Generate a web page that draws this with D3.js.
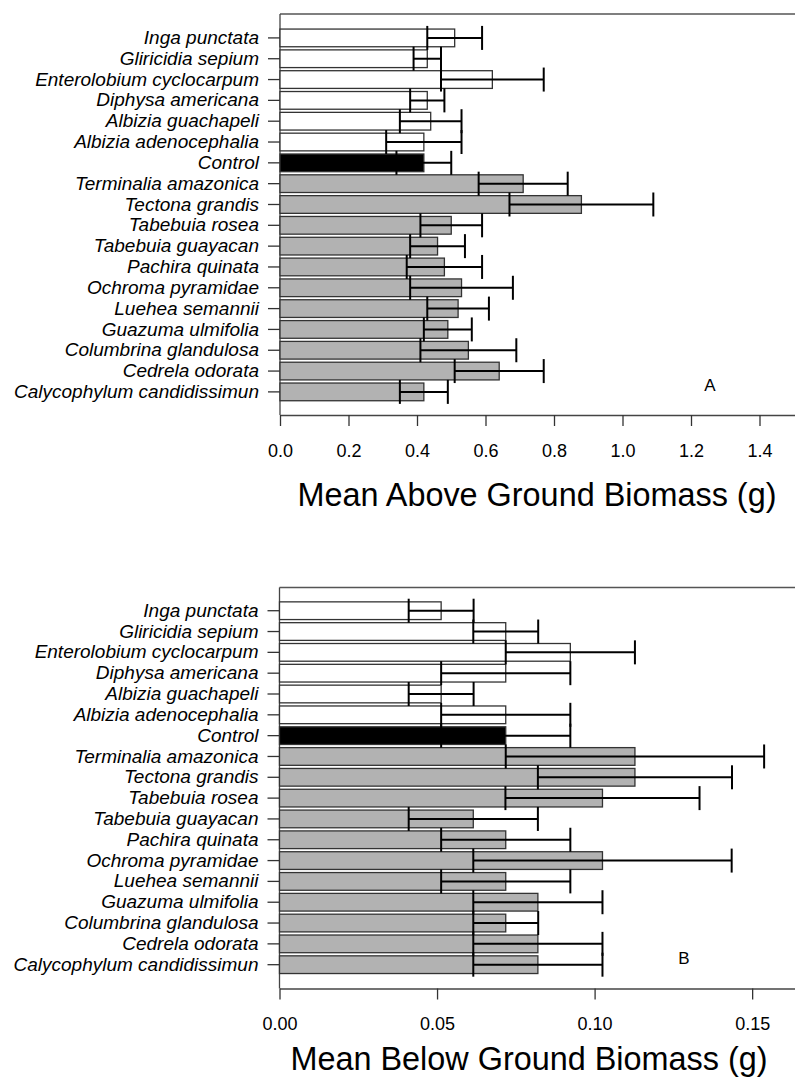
<!DOCTYPE html>
<html>
<head>
<meta charset="utf-8">
<script src="https://cdn.jsdelivr.net/npm/d3@7"></script>
<style>
  html, body { margin: 0; padding: 0; background: #ffffff; }
  svg { display: block; }
  text { font-family: "Liberation Sans", Arial, sans-serif; fill: #000; }
</style>
</head>
<body>
<svg id="chart" width="795" height="1081"></svg>
<script>
// ---- Data ----
const species = [
  "Inga punctata", "Gliricidia sepium", "Enterolobium cyclocarpum", "Diphysa americana",
  "Albizia guachapeli", "Albizia adenocephalia", "Control", "Terminalia amazonica",
  "Tectona grandis", "Tabebuia rosea", "Tabebuia guayacan", "Pachira quinata",
  "Ochroma pyramidae", "Luehea semannii", "Guazuma ulmifolia", "Columbrina glandulosa",
  "Cedrela odorata", "Calycophylum candidissimun"
];
// group: legume (white), control (black), non-legume (grey)
const groups = [
  "legume", "legume", "legume", "legume", "legume", "legume", "control",
  "other", "other", "other", "other", "other", "other", "other", "other", "other", "other", "other"
];
const aboveMean = [0.51, 0.43, 0.62, 0.43, 0.44, 0.42, 0.42, 0.71, 0.88, 0.50, 0.46, 0.48, 0.53, 0.52, 0.49, 0.55, 0.64, 0.42];
const aboveErr  = [0.08, 0.04, 0.15, 0.05, 0.09, 0.11, 0.08, 0.13, 0.21, 0.09, 0.08, 0.11, 0.15, 0.09, 0.07, 0.14, 0.13, 0.07];
const belowMean = [0.0513, 0.0718, 0.0923, 0.0718, 0.0513, 0.0718, 0.0718, 0.1128, 0.1128, 0.1025, 0.0615, 0.0718, 0.1025, 0.0718, 0.0820, 0.0718, 0.0820, 0.0820];
const belowErr  = [0.0103, 0.0103, 0.0205, 0.0205, 0.0103, 0.0205, 0.0205, 0.0410, 0.0308, 0.0308, 0.0205, 0.0205, 0.0410, 0.0205, 0.0205, 0.0103, 0.0205, 0.0205];
const aboveTicks = [0.0, 0.2, 0.4, 0.6, 0.8, 1.0, 1.2, 1.4];
const belowTicks = [0.00, 0.05, 0.10, 0.15];
const aboveTitle = "Mean Above Ground Biomass (g)";
const belowTitle = "Mean Below Ground Biomass (g)";

const fillFor = { legume: "#ffffff", control: "#000000", other: "#b2b2b2" };

const svg = d3.select("#chart");

function panel(cfg) {
  const g = svg.append("g");
  const data = species.map((s, i) => ({ name: s, group: groups[i], mean: cfg.mean[i], err: cfg.err[i] }));

  const x = d3.scaleLinear().domain([0, cfg.xMax]).range([cfg.left, cfg.right]);
  const y = d3.scaleBand().domain(species).range([cfg.bandTop, cfg.bandBottom])
    .paddingInner(0.15).paddingOuter(0.075);

  // top frame line
  g.append("line").attr("x1", cfg.left).attr("x2", cfg.right)
    .attr("y1", cfg.top).attr("y2", cfg.top)
    .attr("stroke", "#555").attr("stroke-width", 1.3);
  // left axis line
  g.append("line").attr("x1", cfg.left).attr("x2", cfg.left)
    .attr("y1", cfg.top).attr("y2", cfg.bottom)
    .attr("stroke", "#444").attr("stroke-width", 1.3);

  // bars
  g.append("g").selectAll("rect").data(data).join("rect")
    .attr("x", x(0))
    .attr("y", d => y(d.name))
    .attr("width", d => x(d.mean) - x(0))
    .attr("height", y.bandwidth())
    .attr("fill", d => fillFor[d.group])
    .attr("stroke", "#333")
    .attr("stroke-width", 1.3);

  // error bars
  const eb = g.append("g").attr("stroke", "#000").attr("stroke-width", 2);
  const capH = 24;
  data.forEach(d => {
    const cy = y(d.name) + y.bandwidth() / 2;
    const x1 = x(d.mean - d.err), x2 = x(d.mean + d.err);
    eb.append("line").attr("x1", x1).attr("x2", x2).attr("y1", cy).attr("y2", cy);
    eb.append("line").attr("x1", x1).attr("x2", x1).attr("y1", cy - capH / 2).attr("y2", cy + capH / 2);
    eb.append("line").attr("x1", x2).attr("x2", x2).attr("y1", cy - capH / 2).attr("y2", cy + capH / 2);
  });

  // left axis (ticks + labels)
  const ya = g.append("g").attr("transform", `translate(${cfg.left},0)`)
    .call(d3.axisLeft(y).tickSize(12).tickSizeOuter(0).tickPadding(9));
  ya.select(".domain").remove();
  ya.selectAll(".tick line").attr("stroke", "#333").attr("stroke-width", 1.3);
  ya.selectAll(".tick text").attr("font-size", 19).attr("font-style", "italic")
    .attr("font-family", "'Liberation Sans', Arial, sans-serif").attr("fill", "#000");

  // bottom axis
  const xa = g.append("g").attr("transform", `translate(0,${cfg.bottom})`)
    .call(d3.axisBottom(x).tickValues(cfg.ticks).tickFormat(d3.format(cfg.fmt))
      .tickSize(11).tickSizeOuter(0).tickPadding(18));
  xa.select(".domain").attr("stroke", "#444").attr("stroke-width", 1.3);
  xa.selectAll(".tick line").attr("stroke", "#333").attr("stroke-width", 1.3);
  xa.selectAll(".tick text").attr("font-size", 18)
    .attr("font-family", "'Liberation Sans', Arial, sans-serif").attr("fill", "#000");

  // axis title
  g.append("text").attr("x", cfg.titleX).attr("y", cfg.titleY)
    .attr("text-anchor", "middle").attr("font-size", 32.4).text(cfg.title);

  // panel letter
  g.append("text").attr("x", cfg.letterX).attr("y", cfg.letterY)
    .attr("text-anchor", "middle").attr("font-size", 17).text(cfg.letter);
}

panel({
  mean: aboveMean, err: aboveErr, ticks: aboveTicks, fmt: ".1f",
  left: 280, right: 795, xMax: 515 / 342.5,
  top: 14, bottom: 415, bandTop: 27.5, bandBottom: 402.3,
  title: aboveTitle, titleX: 537, titleY: 506,
  letter: "A", letterX: 710, letterY: 391
});

panel({
  mean: belowMean, err: belowErr, ticks: belowTicks, fmt: ".2f",
  left: 279.5, right: 795, xMax: 515.5 / 3151,
  top: 587.5, bottom: 988.5, bandTop: 600.3, bandBottom: 975.1,
  title: belowTitle, titleX: 529, titleY: 1070,
  letter: "B", letterX: 684, letterY: 964
});
</script>
</body>
</html>
